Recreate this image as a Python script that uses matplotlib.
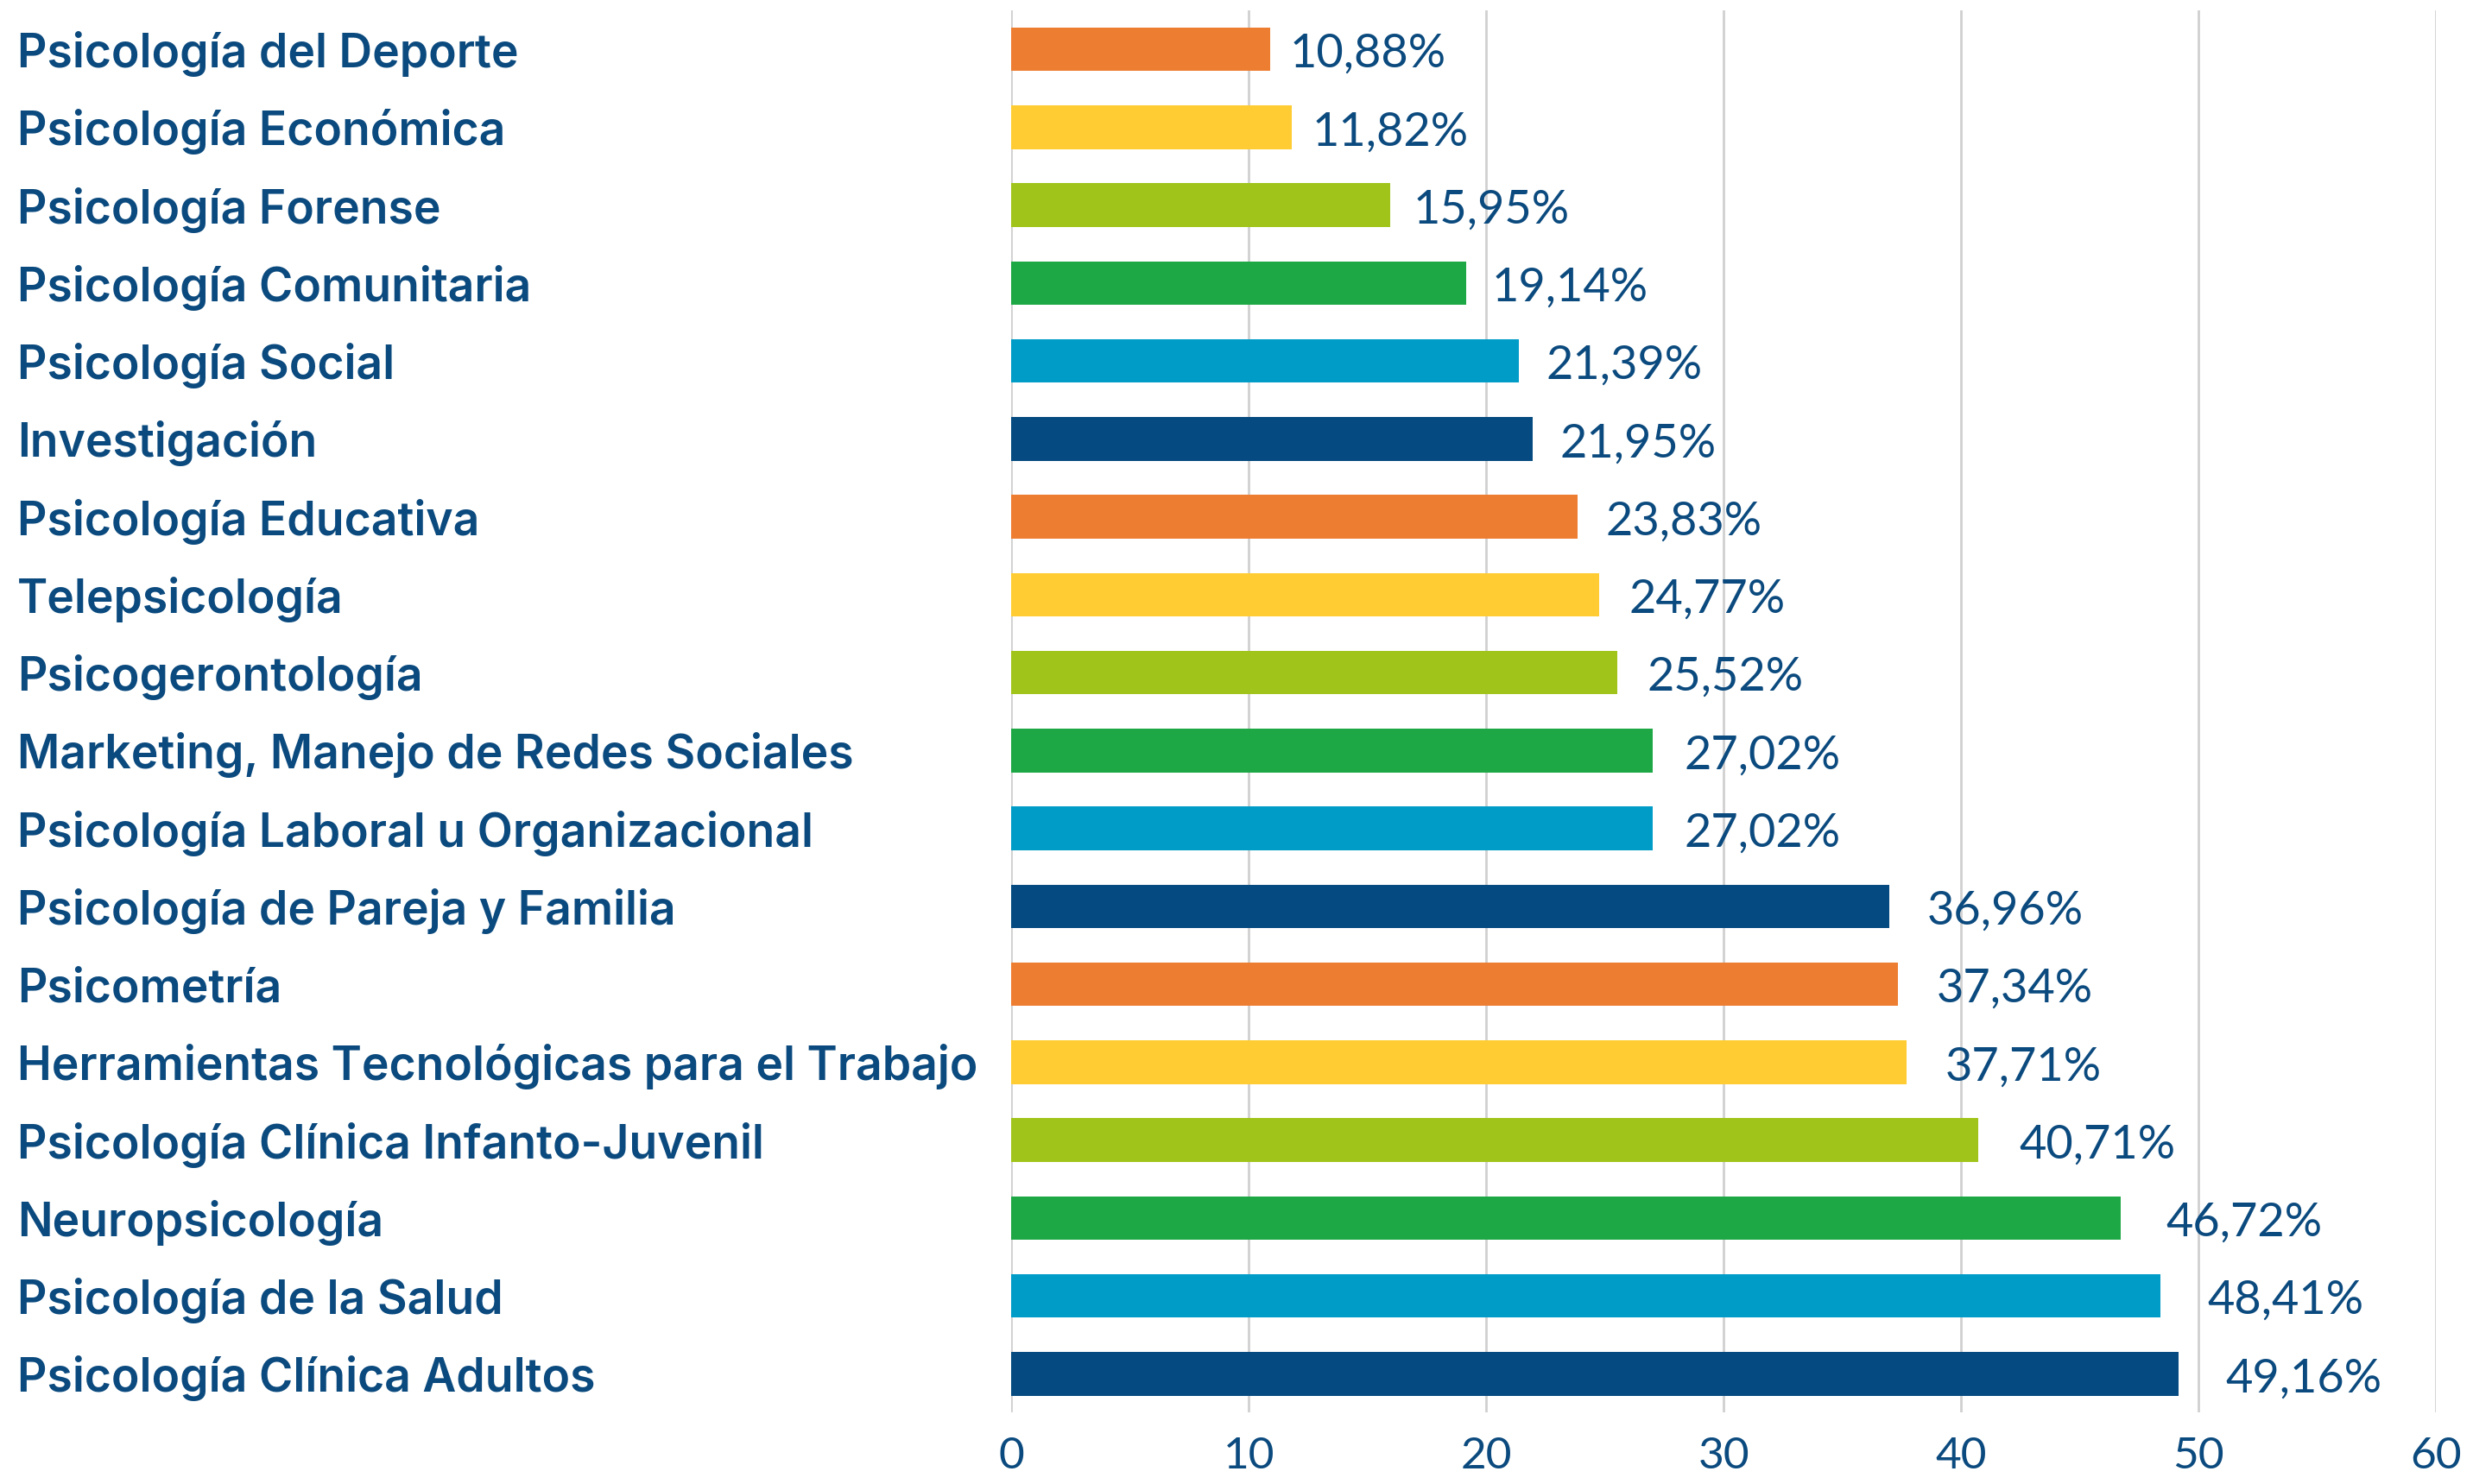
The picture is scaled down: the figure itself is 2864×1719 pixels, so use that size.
import matplotlib.pyplot as plt
import numpy as np

categories = [
    'Psicología del Deporte',
    'Psicología Económica',
    'Psicología Forense',
    'Psicología Comunitaria',
    'Psicología Social',
    'Investigación',
    'Psicología Educativa',
    'Telepsicología',
    'Psicogerontología',
    'Marketing, Manejo de Redes Sociales',
    'Psicología Laboral u Organizacional',
    'Psicología de Pareja y Familia',
    'Psicometría',
    'Herramientas Tecnológicas para el Trabajo',
    'Psicología Clínica Infanto-Juvenil',
    'Neuropsicología',
    'Psicología de la Salud',
    'Psicología Clínica Adultos',
]
values = [10.88, 11.82, 15.95, 19.14, 21.39, 21.95, 23.83, 24.77, 25.52,
          27.02, 27.02, 36.96, 37.34, 37.71, 40.71, 46.72, 48.41, 49.16]
ticks = [0, 10, 20, 30, 40, 50, 60]

palette = ['#ED7D31', '#FFCD33', '#A0C41A', '#1EA845', '#009CC8', '#054A80']
text_color = '#0B4A7E'

plt.rcParams['font.family'] = ['Lato', 'DejaVu Sans']

fig = plt.figure(figsize=(28.64, 17.19), dpi=100)
ax = fig.add_axes([0.409, 0.048, 0.576, 0.945])

y = np.arange(len(categories))
colors = [palette[i % len(palette)] for i in range(len(categories))]
ax.barh(y, values, height=0.56, color=colors, zorder=3)

# value labels, shifted a bit right of the bar end
for yi, v in zip(y, values):
    label = f'{v:.2f}%'.replace('.', ',')
    ax.text(v + 0.5 + 0.03 * v, yi + 0.06, label, va='center', ha='left',
            fontsize=39, color=text_color)

ax.set_xlim(0, 60)
ax.set_ylim(len(categories) - 0.5, -0.5)
ax.set_xticks(ticks)
ax.set_xticklabels([str(t) for t in ticks], fontsize=37, color=text_color)
ax.set_yticks(y)
ax.set_yticklabels(categories, fontsize=38.5, color=text_color,
                   fontweight='semibold', ha='left', family=['Inter', 'DejaVu Sans'])
ax.tick_params(axis='y', length=0, pad=829)
ax.tick_params(axis='x', length=0, pad=20)

ax.grid(axis='x', color='#D0D0D0', linewidth=2, zorder=0)
for s in ax.spines.values():
    s.set_visible(False)

fig.savefig('out.png', dpi=100)
